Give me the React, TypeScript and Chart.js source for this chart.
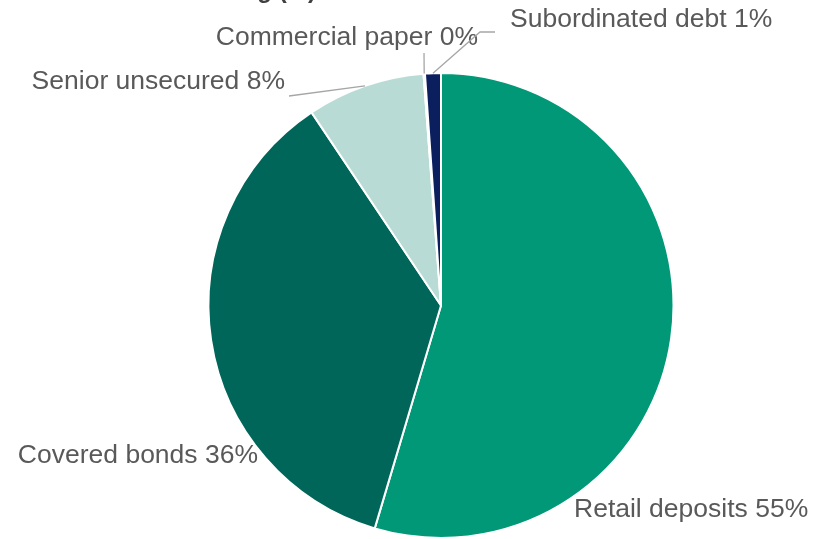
import React, { useEffect, useRef } from "react";
import { Chart, registerables } from "chart.js";

Chart.register(...registerables);

const categories = [
  "Retail deposits",
  "Covered bonds",
  "Senior unsecured",
  "Commercial paper",
  "Subordinated debt",
];
const shares = [54.6, 36.0, 8.2, 0.1, 1.1];
const colors = ["#009877", "#00665A", "#B8DCD5", "#8FA9A3", "#0B1E5E"];
const titleText = "Funding (%)";

// label placement relative to pie centre (layout only, alphabetic baseline)
const labelPlacement = [
  { dx: 133, dy: 211.5, align: "left", leader: [] as number[][] },
  { dx: -183, dy: 157.5, align: "right", leader: [] as number[][] },
  { dx: -156, dy: -216.5, align: "right", leader: [[-152, -209.5]] },
  { dx: 37, dy: -260.5, align: "right", leader: [[-17, -252.5]] },
  { dx: 69, dy: -278.5, align: "left", leader: [[39, -273.5], [54, -273.5]] },
];

const FONT = "'Liberation Sans', Arial, sans-serif";

const labelPlugin = {
  id: "outerLabels",
  afterDraw(chart: any) {
    const ctx = chart.ctx;
    const meta = chart.getDatasetMeta(0);
    ctx.save();
    // clipped title
    ctx.font = `bold 24px ${FONT}`;
    ctx.fillStyle = "#404040";
    ctx.textAlign = "right";
    ctx.textBaseline = "alphabetic";
    ctx.fillText(titleText, 316, -2);

    meta.data.forEach((arc: any, i: number) => {
      const p = labelPlacement[i];
      const cx = arc.x;
      const cy = arc.y;
      const mid = (arc.startAngle + arc.endAngle) / 2;
      const r = arc.outerRadius;
      if (p.leader.length) {
        ctx.beginPath();
        ctx.strokeStyle = "#A6A6A6";
        ctx.lineWidth = 1.3;
        ctx.moveTo(cx + Math.cos(mid) * r, cy + Math.sin(mid) * r);
        p.leader.forEach((pt) => ctx.lineTo(cx + pt[0], cy + pt[1]));
        ctx.stroke();
      }
      ctx.font = `26.5px ${FONT}`;
      ctx.fillStyle = "#595959";
      ctx.textAlign = p.align;
      ctx.textBaseline = "alphabetic";
      ctx.fillText(
        `${categories[i]} ${Math.round(shares[i])}%`,
        cx + p.dx,
        cy + p.dy
      );
    });
    ctx.restore();
  },
};

export default function App() {
  const ref = useRef<HTMLCanvasElement>(null);
  useEffect(() => {
    if (!ref.current) return;
    const chart = new Chart(ref.current, {
      type: "pie",
      data: {
        labels: categories,
        datasets: [
          {
            data: shares,
            backgroundColor: colors,
            borderColor: "#FFFFFF",
            borderWidth: 2,
          },
        ],
      },
      options: {
        responsive: false,
        animation: false,
        layout: { padding: { top: 72, bottom: 0, left: 207, right: 152 } },
        plugins: {
          legend: { display: false },
          tooltip: { enabled: false },
          title: { display: false },
        },
      },
      plugins: [labelPlugin],
    });
    return () => chart.destroy();
  }, []);
  return (
    <div style={{ position: "fixed", left: 0, top: 0, width: 827, height: 539, background: "#fff" }}>
      <canvas ref={ref} width={827} height={539} style={{ display: "block" }} />
    </div>
  );
}
